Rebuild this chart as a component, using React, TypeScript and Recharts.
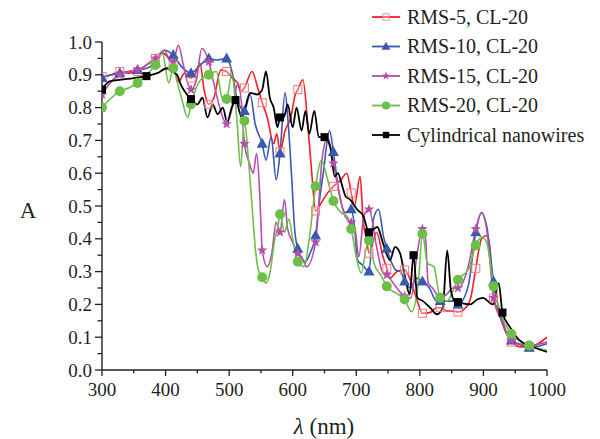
import { LineChart, Line, XAxis, YAxis } from "recharts";

/* ── Data (wavelength nm, absorptance) ─────────────────── */

const rms5: [number, number][] = [
  [300, 0.895], [315, 0.9], [328, 0.91], [342, 0.905], [356, 0.91], [370, 0.93],
  [384, 0.95], [395, 0.966], [405, 0.95], [412, 0.93], [420, 0.88], [430, 0.905],
  [440, 0.89], [446, 0.9], [454, 0.935], [461, 0.85], [468, 0.81], [476, 0.83],
  [487, 0.915], [496, 0.91], [505, 0.89], [513, 0.875], [518, 0.85], [524, 0.86],
  [536, 0.91], [545, 0.86], [552, 0.815], [560, 0.77], [570, 0.69], [575, 0.72],
  [580, 0.665], [588, 0.73], [597, 0.77], [604, 0.84], [608, 0.855], [616, 0.885],
  [624, 0.74], [630, 0.6], [636, 0.485], [645, 0.51], [655, 0.54], [664, 0.56],
  [676, 0.58], [685, 0.6], [692, 0.54], [697, 0.5], [706, 0.59], [711, 0.45],
  [716, 0.4], [720, 0.356], [732, 0.42], [742, 0.345], [748, 0.31], [753, 0.28],
  [764, 0.3], [776, 0.305], [786, 0.27], [796, 0.21], [804, 0.173], [816, 0.175],
  [826, 0.19], [832, 0.19], [842, 0.18], [852, 0.18], [860, 0.177], [872, 0.19],
  [880, 0.22], [888, 0.31], [897, 0.4], [905, 0.41], [910, 0.375], [916, 0.22],
  [926, 0.17], [944, 0.085], [960, 0.07], [972, 0.07], [1000, 0.1],
];

const rms10: [number, number][] = [
  [300, 0.89], [315, 0.9], [328, 0.905], [342, 0.91], [356, 0.915], [370, 0.92],
  [384, 0.935], [398, 0.975], [412, 0.96], [425, 0.925], [440, 0.905], [455, 0.93],
  [468, 0.95], [480, 0.945], [496, 0.95], [505, 0.905], [512, 0.83], [518, 0.8],
  [524, 0.79], [533, 0.84], [541, 0.75], [552, 0.69], [558, 0.64], [566, 0.71],
  [574, 0.58], [580, 0.66], [588, 0.845], [593, 0.75], [598, 0.6], [603, 0.43],
  [608, 0.37], [620, 0.33], [628, 0.36], [636, 0.41], [641, 0.5], [648, 0.6],
  [658, 0.73], [664, 0.665], [672, 0.55], [683, 0.48], [692, 0.49], [697, 0.44],
  [702, 0.335], [710, 0.32], [720, 0.3], [727, 0.46], [735, 0.49], [743, 0.405],
  [748, 0.37], [755, 0.33], [762, 0.305], [770, 0.3], [776, 0.27], [786, 0.25],
  [795, 0.28], [804, 0.27], [815, 0.25], [826, 0.21], [832, 0.21], [843, 0.21],
  [852, 0.21], [860, 0.2], [876, 0.255], [888, 0.42], [897, 0.48], [905, 0.44],
  [916, 0.27], [926, 0.17], [944, 0.09], [960, 0.075], [972, 0.068], [1000, 0.08],
];

const rms15: [number, number][] = [
  [300, 0.84], [315, 0.88], [328, 0.9], [342, 0.91], [356, 0.915], [370, 0.93],
  [384, 0.95], [398, 0.975], [405, 0.95], [412, 0.94], [420, 0.99], [428, 0.93],
  [434, 0.88], [440, 0.855], [448, 0.88], [457, 0.98], [468, 0.94], [474, 0.89],
  [480, 0.84], [490, 0.77], [496, 0.75], [505, 0.8], [514, 0.875], [520, 0.8],
  [524, 0.69], [532, 0.63], [538, 0.6], [543, 0.66], [547, 0.58], [550, 0.45],
  [552, 0.365], [560, 0.315], [567, 0.355], [574, 0.45], [580, 0.42], [587, 0.52],
  [592, 0.43], [600, 0.39], [608, 0.355], [614, 0.345], [622, 0.315], [636, 0.39],
  [641, 0.51], [646, 0.64], [655, 0.71], [664, 0.63], [670, 0.57], [682, 0.47],
  [692, 0.45], [698, 0.43], [704, 0.345], [712, 0.47], [720, 0.49], [732, 0.375],
  [741, 0.3], [748, 0.29], [760, 0.26], [770, 0.235], [776, 0.225], [786, 0.22],
  [795, 0.345], [804, 0.43], [809, 0.4], [813, 0.265], [820, 0.25], [832, 0.22],
  [842, 0.23], [852, 0.25], [860, 0.25], [876, 0.315], [888, 0.43], [897, 0.48],
  [905, 0.43], [916, 0.22], [926, 0.16], [944, 0.09], [972, 0.075], [1000, 0.085],
];

const rms20: [number, number][] = [
  [300, 0.8], [315, 0.83], [328, 0.85], [342, 0.86], [356, 0.875], [370, 0.9],
  [384, 0.93], [395, 0.965], [405, 0.875], [412, 0.92], [418, 0.88], [425, 0.83],
  [435, 0.77], [440, 0.81], [455, 0.885], [468, 0.9], [480, 0.91], [490, 0.823],
  [496, 0.826], [504, 0.9], [512, 0.77], [518, 0.62], [524, 0.76], [530, 0.65],
  [536, 0.5], [541, 0.375], [546, 0.305], [552, 0.283], [558, 0.265], [564, 0.295],
  [572, 0.4], [577, 0.44], [580, 0.475], [587, 0.42], [594, 0.46], [600, 0.4],
  [608, 0.33], [618, 0.315], [626, 0.4], [636, 0.56], [645, 0.64], [655, 0.58],
  [664, 0.515], [676, 0.48], [685, 0.47], [692, 0.43], [700, 0.345], [708, 0.295],
  [715, 0.365], [720, 0.395], [728, 0.325], [740, 0.285], [748, 0.255], [762, 0.235],
  [776, 0.215], [787, 0.178], [798, 0.275], [804, 0.415], [812, 0.325], [822, 0.315],
  [832, 0.22], [843, 0.21], [852, 0.24], [860, 0.275], [876, 0.305], [888, 0.38],
  [897, 0.405], [905, 0.39], [916, 0.255], [928, 0.17], [944, 0.11], [972, 0.075],
  [1000, 0.06],
];

const cylindrical: [number, number][] = [
  [300, 0.855], [312, 0.88], [330, 0.885], [350, 0.89], [370, 0.896], [387, 0.905],
  [402, 0.92], [410, 0.91], [418, 0.9], [424, 0.87], [430, 0.85], [440, 0.826],
  [450, 0.81], [458, 0.83], [466, 0.77], [474, 0.81], [482, 0.78], [490, 0.8],
  [497, 0.756], [504, 0.8], [510, 0.823], [520, 0.77], [533, 0.845], [544, 0.84],
  [552, 0.855], [558, 0.91], [564, 0.83], [570, 0.8], [576, 0.74], [580, 0.77],
  [586, 0.77], [592, 0.81], [600, 0.74], [606, 0.8], [614, 0.73], [620, 0.79],
  [626, 0.72], [634, 0.79], [641, 0.71], [650, 0.71], [659, 0.68], [666, 0.59],
  [671, 0.6], [678, 0.56], [683, 0.53], [690, 0.52], [701, 0.49], [711, 0.47],
  [720, 0.42], [733, 0.436], [742, 0.387], [753, 0.335], [761, 0.375], [769, 0.355],
  [777, 0.28], [784, 0.23], [790, 0.35], [796, 0.22], [805, 0.21], [816, 0.19],
  [827, 0.17], [836, 0.19], [843, 0.365], [849, 0.24], [855, 0.21], [860, 0.207],
  [879, 0.2], [890, 0.215], [899, 0.22], [915, 0.2], [924, 0.265], [930, 0.175],
  [942, 0.13], [957, 0.09], [978, 0.07], [1000, 0.055],
];

// wavelengths that carry a symbol
const rmsMarks = [
  300, 328, 356, 384, 412, 440, 468, 496, 524, 552, 580, 608, 636, 664, 692, 720,
  748, 776, 804, 832, 860, 888, 916, 944, 972,
];
const cylMarks = [300, 370, 440, 510, 580, 650, 720, 790, 860, 930];

const xTicks = [300, 350, 400, 450, 500, 550, 600, 650, 700, 750, 800, 850, 900, 950, 1000];
const yTicks = [
  0, 0.05, 0.1, 0.15, 0.2, 0.25, 0.3, 0.35, 0.4, 0.45, 0.5, 0.55, 0.6, 0.65, 0.7,
  0.75, 0.8, 0.85, 0.9, 0.95, 1.0,
];

/* ── Styling ───────────────────────────────────────────── */

const FONT = '"Liberation Serif", "DejaVu Serif", serif';
const AXIS = "#231f20";

const C = {
  red: "#f51c24",
  redMark: "#f47a7e",
  blue: "#3a58b0",
  pink: "#b54fab",
  green: "#6cbf48",
  black: "#000000",
};

type Shape = "square" | "triangle" | "star" | "circle" | "filledSquare";

function Marker({ shape, cx, cy, color }: { shape: Shape; cx: number; cy: number; color: string }) {
  if (shape === "square")
    return <rect x={cx - 4} y={cy - 4} width={8} height={8} fill="#fff" fillOpacity={0.3} stroke={color} strokeWidth={1} />;
  if (shape === "filledSquare")
    return <rect x={cx - 4} y={cy - 4} width={8} height={8} fill={color} />;
  if (shape === "triangle")
    return <polygon points={`${cx},${cy - 6} ${cx + 5.5},${cy + 4} ${cx - 5.5},${cy + 4}`} fill={color} />;
  if (shape === "circle") return <circle cx={cx} cy={cy} r={5} fill={color} />;
  const pts: string[] = [];
  for (let i = 0; i < 10; i++) {
    const r = i % 2 === 0 ? 5.5 : 2.3;
    const a = -Math.PI / 2 + (i * Math.PI) / 5;
    pts.push(`${cx + r * Math.cos(a)},${cy + r * Math.sin(a)}`);
  }
  return <polygon points={pts.join(" ")} fill={color} />;
}

function makeDot(shape: Shape, color: string, marks: number[]) {
  return (props: any) => {
    const { cx, cy, payload, index } = props;
    if (!marks.includes(payload.x) || cx == null) return <g key={index} />;
    return (
      <g key={index}>
        <Marker shape={shape} cx={cx} cy={cy} color={color} />
      </g>
    );
  };
}

function XTick({ x, y, payload }: any) {
  const major = payload.value % 100 === 0;
  return (
    <g>
      <line x1={x} x2={x} y1={y} y2={y + (major ? 6 : 3.5)} stroke={AXIS} strokeWidth={1.3} />
      {major && (
        <text x={x} y={y + 26} textAnchor="middle" fontFamily={FONT} fontSize={19} fill="#231f20">
          {payload.value}
        </text>
      )}
    </g>
  );
}

function YTick({ x, y, payload }: any) {
  const v = payload.value;
  const major = Math.abs(v * 10 - Math.round(v * 10)) < 1e-6;
  return (
    <g>
      <line x1={x} x2={x - (major ? 7 : 4.5)} y1={y} y2={y} stroke={AXIS} strokeWidth={1.3} />
      {major && (
        <text x={x - 10} y={y + 6.5} textAnchor="end" fontFamily={FONT} fontSize={19} fill="#231f20">
          {v.toFixed(1)}
        </text>
      )}
    </g>
  );
}

const SERIES = [
  { name: "RMS-5, CL-20", data: rms5, color: C.red, mark: C.redMark, shape: "square" as Shape, marks: rmsMarks },
  { name: "RMS-10, CL-20", data: rms10, color: C.blue, mark: C.blue, shape: "triangle" as Shape, marks: rmsMarks },
  { name: "RMS-15, CL-20", data: rms15, color: C.pink, mark: C.pink, shape: "star" as Shape, marks: rmsMarks },
  { name: "RMS-20, CL-20", data: rms20, color: C.green, mark: C.green, shape: "circle" as Shape, marks: rmsMarks },
  { name: "Cylindrical nanowires", data: cylindrical, color: C.black, mark: C.black, shape: "filledSquare" as Shape, marks: cylMarks },
];

const toPoints = (arr: [number, number][]) => arr.map(([x, y]) => ({ x, y }));

export default function App() {
  return (
    <div style={{ position: "absolute", left: 0, top: 0, width: 600, height: 439, background: "#fff" }}>
      <LineChart width={600} height={439} margin={{ top: 42, right: 53, bottom: 0, left: 0 }}>
        <XAxis
          type="number"
          dataKey="x"
          domain={[300, 1000]}
          ticks={xTicks}
          interval={0}
          height={69}
          tickSize={0}
          tickMargin={0}
          tickLine={false}
          axisLine={{ stroke: AXIS, strokeWidth: 1.4 }}
          tick={<XTick />}
          allowDataOverflow
        />
        <YAxis
          type="number"
          dataKey="y"
          domain={[0, 1]}
          ticks={yTicks}
          interval={0}
          width={102}
          tickSize={0}
          tickMargin={0}
          tickLine={false}
          axisLine={{ stroke: AXIS, strokeWidth: 1.4 }}
          tick={<YTick />}
          allowDataOverflow
        />
        {SERIES.map((s) => (
          <Line
            key={s.name}
            data={toPoints(s.data)}
            dataKey="y"
            name={s.name}
            type="monotone"
            stroke={s.color}
            strokeWidth={s.shape === "filledSquare" ? 1.8 : 1.6}
            dot={makeDot(s.shape, s.mark, s.marks)}
            activeDot={false}
            isAnimationActive={false}
          />
        ))}
      </LineChart>

      <svg width={600} height={439} style={{ position: "absolute", left: 0, top: 0, pointerEvents: "none" }}>
        {SERIES.map((s, i) => {
          const y = 17 + i * 29.5;
          return (
            <g key={s.name}>
              <line x1={372} x2={400} y1={y} y2={y} stroke={s.color} strokeWidth={1.8} />
              <g transform={`translate(${386},${y}) scale(0.8) translate(${-386},${-y})`}>
                <Marker shape={s.shape} cx={386} cy={y} color={s.mark} />
              </g>
              <text x={407} y={y + 6.5} fontFamily={FONT} fontSize={20} fill="#231f20">
                {s.name}
              </text>
            </g>
          );
        })}
        <text x={28} y={218} textAnchor="middle" fontFamily={FONT} fontSize={23} fill="#231f20">
          A
        </text>
        <text x={324} y={434} textAnchor="middle" fontFamily={FONT} fontSize={23} fill="#231f20">
          <tspan fontStyle="italic">λ</tspan> (nm)
        </text>
      </svg>
    </div>
  );
}
